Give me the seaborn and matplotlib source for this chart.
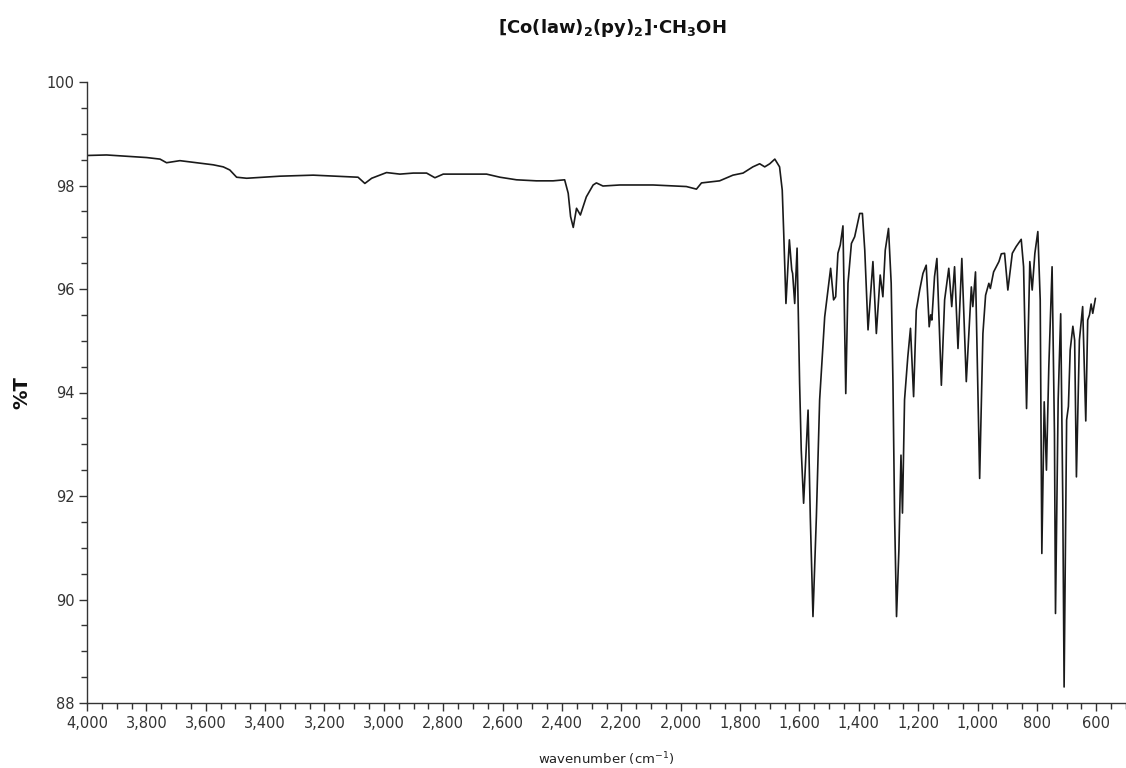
import matplotlib
matplotlib.use("Agg")
import matplotlib.pyplot as plt
from matplotlib.ticker import MultipleLocator, FuncFormatter
import seaborn as sns
import pandas as pd

wavenumber = [
    4000, 3934, 3855, 3799, 3754, 3732, 3687, 3631, 3575, 3541, 3519, 3496, 3462,
    3350, 3238, 3126, 3087, 3064, 3041, 2991, 2946, 2901, 2856, 2828, 2800, 2710,
    2654, 2609, 2553, 2486, 2430, 2391, 2379, 2371, 2362, 2351, 2338, 2318, 2295,
    2284, 2262, 2205, 2093, 1981, 1947, 1930, 1869, 1824, 1790, 1757, 1734, 1717,
    1700, 1683, 1667, 1658, 1653, 1645.5, 1634, 1626, 1623, 1616, 1608, 1599.5,
    1594, 1586, 1571, 1563.5, 1554.5, 1543, 1532, 1515, 1495, 1485, 1478, 1470.5,
    1462.5, 1453.5, 1444, 1436.5, 1425, 1414, 1397, 1388, 1380, 1369, 1352.5, 1341,
    1328, 1319, 1311, 1300, 1291, 1285, 1279.5, 1273, 1265, 1258, 1253, 1246, 1235,
    1226, 1215.5, 1206.5, 1195, 1184, 1173, 1163, 1158, 1154, 1145, 1137, 1122,
    1111, 1097, 1087, 1077.5, 1066, 1053, 1038, 1021, 1016, 1007, 993, 982, 973,
    962, 957, 946, 928, 920, 909, 898, 883, 870, 853, 845, 835, 824, 816, 807, 797,
    789, 783.5, 775.5, 768, 760, 749, 741, 737.5, 728.5, 720, 713, 708.5, 700, 694,
    688, 679, 673, 667, 657, 646, 635.5, 629, 623, 617.5, 612, 603,
]
transmittance = [
    98.58, 98.59, 98.56, 98.54, 98.51, 98.44, 98.48, 98.44, 98.40, 98.36, 98.30, 98.16, 98.14,
    98.18, 98.20, 98.17, 98.16, 98.04, 98.14, 98.25, 98.22, 98.24, 98.24, 98.15, 98.22, 98.22,
    98.22, 98.16, 98.11, 98.09, 98.09, 98.11, 97.85, 97.40, 97.19, 97.56, 97.43, 97.78, 98.01,
    98.05, 97.99, 98.01, 98.01, 97.98, 97.93, 98.05, 98.09, 98.20, 98.24, 98.36, 98.42, 98.36,
    98.42, 98.51, 98.36, 97.91, 97.08, 95.72, 96.95, 96.37, 96.30, 95.72, 96.79, 94.18,
    92.89, 91.86, 93.66, 91.60, 89.67, 91.60, 93.86, 95.46, 96.40, 95.79, 95.85, 96.69,
    96.85, 97.22, 93.98, 96.11, 96.88, 97.01, 97.46, 97.46, 96.75, 95.21, 96.53, 95.14,
    96.27, 95.85, 96.75, 97.17, 96.11, 94.18, 91.60, 89.67, 90.96, 92.79, 91.67, 93.86, 94.69,
    95.24, 93.92, 95.59, 95.98, 96.30, 96.46, 95.27, 95.50, 95.40, 96.24, 96.59, 94.14,
    95.79, 96.40, 95.66, 96.43, 94.85, 96.59, 94.21, 96.04, 95.66, 96.33, 92.34, 95.14, 95.88,
    96.11, 96.01, 96.33, 96.53, 96.68, 96.69, 95.98, 96.69, 96.82, 96.96, 96.43, 93.69, 96.53, 95.98, 96.69, 97.11,
    95.79, 90.89, 93.82, 92.50, 94.50, 96.43, 93.21, 89.73, 93.86, 95.52, 91.92, 88.31, 93.47, 93.73,
    94.82, 95.28, 95.01, 92.37, 95.01, 95.66, 93.45, 95.40, 95.50, 95.71, 95.53, 95.82,
]

title_text = r"[Co(law)$_\mathbf{2}$(py)$_\mathbf{2}$]·CH$_\mathbf{3}$OH"
x_label = r"wavenumber (cm$^{-1}$)"
y_label = "%T"

sns.set_theme(style="ticks")
plt.rcParams["font.family"] = ["DejaVu Sans"]
plt.rcParams["font.stretch"] = "normal"

df = pd.DataFrame({"wn": wavenumber, "T": transmittance})

fig = plt.figure(figsize=(11.26, 7.68), dpi=100)
ax = fig.add_axes([87 / 1126, 1 - 703 / 768, (1126 - 87) / 1126, (703 - 82) / 768])

sns.lineplot(data=df, x="wn", y="T", ax=ax, color="#1a1a1a", linewidth=1.2,
             sort=False, estimator=None)

ax.set_xlim(4000, 500)
ax.set_ylim(88, 100)
ax.xaxis.set_major_locator(MultipleLocator(200))
ax.xaxis.set_minor_locator(MultipleLocator(50))
ax.yaxis.set_major_locator(MultipleLocator(2))
ax.yaxis.set_minor_locator(MultipleLocator(0.5))
ax.xaxis.set_major_formatter(FuncFormatter(lambda v, p: f"{v:,.0f}" if v >= 600 else ""))
ax.yaxis.set_major_formatter(FuncFormatter(lambda v, p: f"{v:.0f}"))

for side in ["top", "right"]:
    ax.spines[side].set_visible(False)
for side in ["left", "bottom"]:
    ax.spines[side].set_color("#333333")
    ax.spines[side].set_linewidth(1.0)

ax.tick_params(axis="both", which="major", length=6, width=1.0, color="#333333",
               labelsize=10.5, labelcolor="#333333", pad=3)
ax.tick_params(axis="both", which="minor", length=4, width=1.0, color="#333333")

ax.set_xlabel(x_label, fontsize=9.5, color="#222222", labelpad=14)
ax.set_ylabel(y_label, fontsize=14, fontweight="bold", color="#111111", labelpad=11)

fig.text(612 / 1126, 1 - 28 / 768, title_text, ha="center", va="center",
         fontsize=13, fontweight="bold", color="#111111")

fig.savefig("out.png", dpi=100)
